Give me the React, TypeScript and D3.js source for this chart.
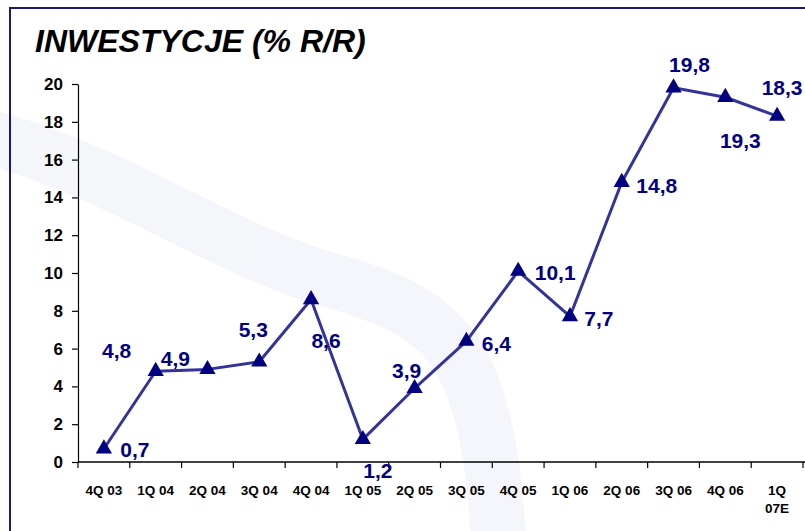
import { useEffect, useRef } from 'react';
import * as d3 from 'd3';

const categories = ['4Q 03', '1Q 04', '2Q 04', '3Q 04', '4Q 04', '1Q 05', '2Q 05', '3Q 05', '4Q 05', '1Q 06', '2Q 06', '3Q 06', '4Q 06', '1Q 07E'];
const values = [0.7, 4.8, 4.9, 5.3, 8.6, 1.2, 3.9, 6.4, 10.1, 7.7, 14.8, 19.8, 19.3, 18.3];
const valueLabels = ['0,7', '4,8', '4,9', '5,3', '8,6', '1,2', '3,9', '6,4', '10,1', '7,7', '14,8', '19,8', '19,3', '18,3'];
const yTicks = [0, 2, 4, 6, 8, 10, 12, 14, 16, 18, 20];

// where each value label sits relative to its marker (label centre, px)
const labelOffsets: [number, number][] = [
  [31, 1], [-39, -21], [-32, -11], [-6, -32], [15, 41], [15, 31], [-8, -18],
  [30, 2], [37, 1], [29, 2], [35, 3], [16, -23], [15, 43], [5, -29]
];

const W = 805;
const H = 531;
const NAVY = '#000080';
const LINE = '#33339a';
const FONT = '"Liberation Sans", Arial, sans-serif';

export default function App() {
  const ref = useRef<SVGSVGElement>(null);

  useEffect(() => {
    if (!ref.current) return;
    const svg = d3.select(ref.current);
    svg.selectAll('*').remove();

    const left = 78, right = 803, top = 84, bottom = 462;

    const x = d3.scaleBand().domain(categories).range([left, right]);
    const y = d3.scaleLinear().domain([0, 20]).range([bottom, top]);

    svg.append('rect').attr('width', W).attr('height', H).attr('fill', '#fff');

    // faint watermark swooshes
    svg.append('path')
      .attr('d', 'M -20 135 C 120 170 220 250 330 280 C 400 300 445 320 470 380 C 490 430 495 480 500 560')
      .attr('fill', 'none')
      .attr('stroke', '#f4f6fb')
      .attr('stroke-width', 55);
    svg.append('path')
      .attr('d', 'M 0 140 C 60 150 160 210 250 250')
      .attr('fill', 'none')
      .attr('stroke', '#f6f7fa')
      .attr('stroke-width', 40);

    // frame
    svg.append('rect')
      .attr('x', 10).attr('y', 8)
      .attr('width', W + 20).attr('height', H + 20)
      .attr('fill', 'none')
      .attr('stroke', '#1a1a7a')
      .attr('stroke-width', 2);

    svg.append('text')
      .attr('x', 35).attr('y', 52)
      .attr('font-family', FONT)
      .attr('font-size', 32)
      .attr('font-weight', 'bold')
      .attr('font-style', 'italic')
      .attr('fill', '#000')
      .text('INWESTYCJE (% R/R)');

    // y axis
    const yAxis = svg.append('g')
      .attr('transform', `translate(${left},0)`)
      .call(d3.axisLeft(y).tickValues(yTicks).tickSize(6).tickPadding(9).tickSizeOuter(0));
    yAxis.select('.domain').attr('stroke', '#000').attr('stroke-width', 1.2);
    yAxis.selectAll('.tick line').attr('stroke', '#000').attr('stroke-width', 1.2);
    yAxis.selectAll('.tick text')
      .attr('font-family', FONT)
      .attr('font-size', 17)
      .attr('font-weight', 'bold')
      .attr('fill', '#000');

    // x axis
    svg.append('line')
      .attr('x1', left).attr('x2', W)
      .attr('y1', bottom).attr('y2', bottom)
      .attr('stroke', '#000').attr('stroke-width', 1.4);
    const bounds = d3.range(categories.length + 1).map(i => left + i * x.bandwidth());
    svg.selectAll('.xtick')
      .data(bounds)
      .enter()
      .append('line')
      .attr('x1', d => d).attr('x2', d => d)
      .attr('y1', bottom).attr('y2', bottom + 6)
      .attr('stroke', '#000').attr('stroke-width', 1.2);

    const xl = svg.selectAll('.xlabel')
      .data(categories)
      .enter()
      .append('text')
      .attr('x', d => (x(d) as number) + x.bandwidth() / 2)
      .attr('y', 495)
      .attr('text-anchor', 'middle')
      .attr('font-family', FONT)
      .attr('font-size', 13.5)
      .attr('font-weight', 'bold')
      .attr('fill', '#000');
    xl.each(function (d) {
      const parts = d.length > 5 ? d.split(' ') : [d];
      const t = d3.select(this);
      parts.forEach((p, i) => {
        t.append('tspan')
          .attr('x', (x(d) as number) + x.bandwidth() / 2)
          .attr('dy', i === 0 ? 0 : 18)
          .text(p);
      });
    });

    const cx = (i: number) => (x(categories[i]) as number) + x.bandwidth() / 2;

    // line
    const line = d3.line<number>()
      .x((_, i) => cx(i))
      .y(d => y(d));
    svg.append('path')
      .datum(values)
      .attr('d', line)
      .attr('fill', 'none')
      .attr('stroke', LINE)
      .attr('stroke-width', 3)
      .attr('stroke-linejoin', 'round');

    // markers
    svg.selectAll('.marker')
      .data(values)
      .enter()
      .append('path')
      .attr('d', d3.symbol(d3.symbolTriangle, 115)())
      .attr('transform', (d, i) => `translate(${cx(i)},${y(d)})`)
      .attr('fill', NAVY);

    // value labels
    svg.selectAll('.vlabel')
      .data(values)
      .enter()
      .append('text')
      .attr('x', (_, i) => cx(i) + labelOffsets[i][0])
      .attr('y', (d, i) => y(d) + labelOffsets[i][1])
      .attr('text-anchor', 'middle')
      .attr('dominant-baseline', 'central')
      .attr('font-family', FONT)
      .attr('font-size', 21)
      .attr('font-weight', 'bold')
      .attr('fill', NAVY)
      .text((_, i) => valueLabels[i]);
  }, []);

  return (
    <svg
      ref={ref}
      width={W}
      height={H}
      style={{ position: 'absolute', left: 0, top: 0 }}
    />
  );
}
